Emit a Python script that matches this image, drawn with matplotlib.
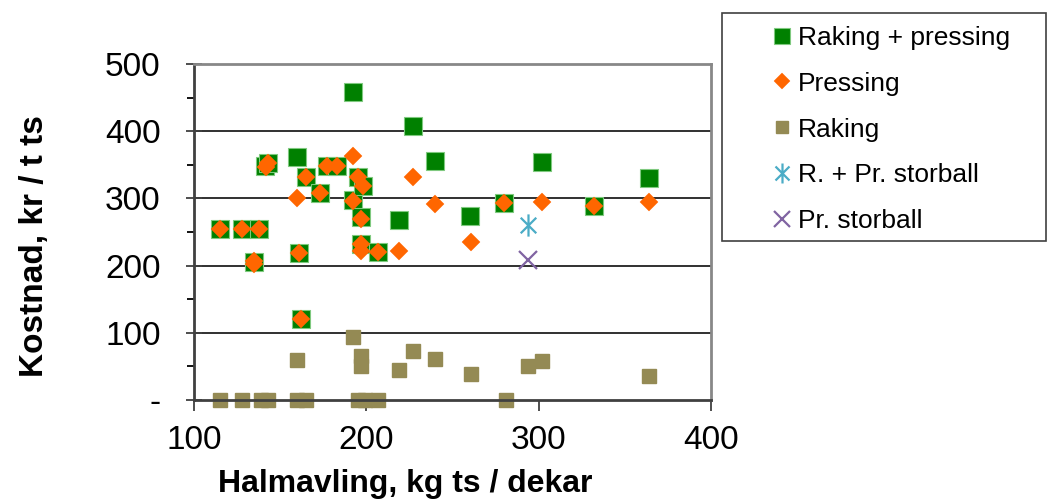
import numpy as np
import matplotlib
matplotlib.use("Agg")
from matplotlib import pyplot as plt
from matplotlib.path import Path
from matplotlib.patches import Rectangle
from matplotlib.ticker import FixedLocator

plt.rcParams['font.family'] = ['Liberation Sans', 'DejaVu Sans']

# Raking + pressing
rp_x = [115, 128, 138, 135, 141, 143, 160, 161, 162, 165, 173, 177, 183, 192, 192,
        195, 198, 197, 197, 207, 219, 227, 240, 260, 280, 302, 332, 364]
rp_y = [255, 255, 255, 206, 348, 353, 361, 219, 120, 332, 308, 348, 348, 459, 297,
        332, 318, 272, 232, 220, 268, 407, 355, 274, 293, 354, 289, 330]
# Pressing
pr_x = [115, 128, 138, 135, 135, 142, 143, 160, 161, 162, 165, 173, 177, 183, 192,
        192, 195, 198, 197, 197, 197, 207, 219, 227, 240, 261, 280, 302, 332, 364]
pr_y = [255, 255, 255, 207, 203, 347, 352, 300, 219, 120, 332, 308, 348, 348, 363,
        296, 332, 318, 270, 232, 222, 220, 221, 332, 292, 235, 293, 294, 289, 294]
# Raking
rk_x = [115, 128, 139, 143, 160, 165, 160, 192, 197, 197, 195, 199, 207, 219, 227,
        240, 261, 281, 294, 302, 364]
rk_y = [0, 0, 0, 0, 0, 0, 60, 94, 65, 50, 0, 0, 0, 45, 73, 61, 38, 0, 51, 58, 35]
# storball
rps_x, rps_y = [294], [260]
ps_x, ps_y = [294], [209]

labels = ['Raking + pressing', 'Pressing', 'Raking', 'R. + Pr. storball', 'Pr. storball']

# asterisk marker: X plus a vertical line
ast = Path([(0, -1), (0, 1), (-0.7, -0.7), (0.7, 0.7), (-0.7, 0.7), (0.7, -0.7)],
           [Path.MOVETO, Path.LINETO] * 3)

fig = plt.figure(figsize=(10.49, 4.99), dpi=100)
ax = fig.add_axes([194/1049, 1-400/499, (711-194)/1049, (400-64)/499])

h1, = ax.plot(rp_x, rp_y, 's', ms=12.5, color='#008000', mec='#7fc97f', mew=0.8, ls='none')
h2, = ax.plot(pr_x, pr_y, 'D', ms=9.3, color='#ff6600', mec='#ff6600', mew=0.3, ls='none')
h3, = ax.plot(rk_x, rk_y, 's', ms=10, color='#948a54', mec='#948a54', ls='none', clip_on=False)
h4, = ax.plot(rps_x, rps_y, marker=ast, ms=16, color='#4bacc6', mew=1.6, ls='none')
h5, = ax.plot(ps_x, ps_y, 'x', ms=13, color='#8064a2', mew=1.6, ls='none')

ax.set_xlim(100, 400)
ax.set_ylim(0, 500)
ax.set_xticks([100, 200, 300, 400])
ax.set_yticks([0, 100, 200, 300, 400, 500])
ax.set_yticklabels(['-', '100', '200', '300', '400', '500'])
ax.yaxis.set_minor_locator(FixedLocator([50, 150, 250, 350, 450]))
ax.tick_params(axis='both', labelsize=24, colors='#404040', labelcolor='black')
ax.tick_params(axis='y', which='major', direction='inout', length=12, width=1.3, pad=18)
ax.tick_params(axis='y', which='minor', direction='out', length=5, width=1.3)
ax.tick_params(axis='x', which='major', direction='out', length=8, width=1.3, pad=10)

for y in [100, 200, 300, 400]:
    ax.axhline(y, color='#303030', lw=1.4, zorder=0)
ax.spines['top'].set_color('#888888')
ax.spines['right'].set_color('#888888')
ax.spines['top'].set_linewidth(2)
ax.spines['right'].set_linewidth(2)
ax.spines['left'].set_color('#404040')
ax.spines['bottom'].set_color('#404040')
ax.spines['left'].set_linewidth(2)
ax.spines['bottom'].set_linewidth(2)

fig.text(35/1049, 1-246/499, 'Kostnad, kr / t ts', rotation=90, ha='center', va='center',
         fontsize=24, fontweight='bold')
fig.text(405/1049, 1-484/499, 'Halmavling, kg ts / dekar', ha='center', va='center',
         fontsize=23, fontweight='bold')

# legend
fig.patches.append(Rectangle((722/1049, 1-241/499), (1046-722)/1049, (241-13)/499,
                             transform=fig.transFigure, fill=False, ec='#404040', lw=1.2))
fig.legend([h1, h2, h3, h4, h5], labels, loc='upper left',
           bbox_to_anchor=(748/1049, 1-2/499), frameon=False, fontsize=19,
           handlelength=0.8, handletextpad=0.2, labelspacing=0.83, markerscale=0.9)

fig.savefig('out.png', dpi=100)
